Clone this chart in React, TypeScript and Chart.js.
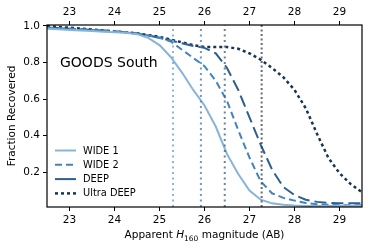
import React, { useEffect, useRef } from "react";
import { Chart, registerables } from "chart.js";

Chart.register(...registerables);

const mags = [22.5, 22.75, 23, 23.25, 23.5, 23.75, 24, 24.25, 24.5, 24.75, 25, 25.25, 25.5, 25.75, 26, 26.25, 26.5, 26.75, 27, 27.25, 27.5, 27.75, 28, 28.25, 28.5, 28.75, 29, 29.25, 29.5];
const wide1 = [0.985, 0.982, 0.978, 0.975, 0.972, 0.968, 0.965, 0.962, 0.955, 0.935, 0.895, 0.83, 0.745, 0.65, 0.565, 0.45, 0.3, 0.19, 0.1, 0.05, 0.03, 0.022, 0.018, 0.016, 0.015, 0.015, 0.015, 0.015, 0.015];
const wide2 = [0.99, 0.988, 0.985, 0.982, 0.978, 0.975, 0.97, 0.965, 0.958, 0.948, 0.935, 0.915, 0.87, 0.825, 0.78, 0.7, 0.59, 0.43, 0.28, 0.15, 0.085, 0.06, 0.045, 0.032, 0.025, 0.022, 0.02, 0.02, 0.02];
const deep = [0.99, 0.988, 0.985, 0.982, 0.978, 0.975, 0.97, 0.965, 0.958, 0.948, 0.935, 0.92, 0.905, 0.89, 0.88, 0.85, 0.77, 0.65, 0.5, 0.35, 0.215, 0.12, 0.075, 0.05, 0.038, 0.033, 0.03, 0.03, 0.03];
const ultraDeep = [1.0, 0.995, 0.99, 0.985, 0.98, 0.975, 0.97, 0.965, 0.96, 0.95, 0.94, 0.925, 0.91, 0.895, 0.885, 0.885, 0.885, 0.875, 0.85, 0.815, 0.77, 0.72, 0.65, 0.55, 0.41, 0.28, 0.195, 0.135, 0.09];
const cutMags = [25.3, 25.92, 26.45, 27.27];
const seriesNames = ["WIDE 1", "WIDE 2", "DEEP", "Ultra DEEP"];
const xTicks = [23, 24, 25, 26, 27, 28, 29];
const yTicks = [0.2, 0.4, 0.6, 0.8, 1.0];
const fieldLabel = "GOODS South";

const colors = ["#88b4da", "#4383c0", "#2d6090", "#1a3552"];
const cutColors = ["rgba(120,170,215,0.85)", "rgba(80,135,195,0.85)", "rgba(70,100,135,0.8)", "rgba(50,60,75,0.75)"];
const dashes = [[], [7, 4], [12, 5], [3, 3]];
const widths = [2, 2, 2, 2.5];
const FONT = "'DejaVu Sans', sans-serif";

export default function App() {
  const ref = useRef<HTMLCanvasElement>(null);
  useEffect(() => {
    document.body.style.margin = "0";
    const series = [wide1, wide2, deep, ultraDeep];
    const X_MIN = 22.5, X_MAX = 29.5, Y_MIN = 0.01, Y_MAX = 1.005;
    const datasets: any[] = series.map((s, i) => ({
      label: seriesNames[i],
      data: mags.map((m, j) => ({ x: m, y: s[j] })),
      borderColor: colors[i],
      borderWidth: widths[i],
      borderDash: dashes[i],
      pointRadius: 0,
      tension: 0,
      fill: false,
    }));
    cutMags.forEach((c, i) => {
      datasets.unshift({
        label: "cut" + i,
        data: [{ x: c, y: Y_MIN }, { x: c, y: Y_MAX }],
        borderColor: cutColors[i],
        borderWidth: 2,
        borderDash: i === 3 ? [2, 2.5] : [2, 3.5],
        pointRadius: 0,
        fill: false,
      });
    });

    const decor = {
      id: "decor",
      afterDraw(chart: any) {
        const ctx = chart.ctx;
        const a = chart.chartArea;
        ctx.save();
        ctx.strokeStyle = "#000";
        ctx.lineWidth = 1.2;
        ctx.strokeRect(a.left, a.top, a.right - a.left, a.bottom - a.top);
        ctx.fillStyle = "#000";
        ctx.font = `14px ${FONT}`;
        ctx.textBaseline = "alphabetic";
        ctx.textAlign = "left";
        ctx.fillText(fieldLabel, 60, 67);
        ctx.font = `9.8px ${FONT}`;
        ctx.textBaseline = "middle";
        seriesNames.forEach((n, i) => {
          const y = 150.5 + i * 14.3;
          ctx.beginPath();
          ctx.strokeStyle = colors[i];
          ctx.lineWidth = widths[i];
          ctx.setLineDash(i === 2 ? [] : dashes[i]);
          ctx.moveTo(55, y);
          ctx.lineTo(76, y);
          ctx.stroke();
          ctx.setLineDash([]);
          ctx.fillStyle = "#000";
          ctx.fillText(n, 83, y + 0.5);
        });
        ctx.save();
        ctx.translate(12.5, (a.top + a.bottom) / 2);
        ctx.rotate(-Math.PI / 2);
        ctx.font = `10.5px ${FONT}`;
        ctx.textAlign = "center";
        ctx.textBaseline = "middle";
        ctx.fillText("Fraction Recovered", 0, 0);
        ctx.restore();
        const parts = [
          { t: "Apparent ", f: `10.5px ${FONT}`, dy: 0 },
          { t: "H", f: `italic 10.5px ${FONT}`, dy: 0 },
          { t: "160", f: `7.5px ${FONT}`, dy: 2.5 },
          { t: " magnitude (AB)", f: `10.5px ${FONT}`, dy: 0 },
        ];
        let total = 0;
        parts.forEach((p) => { ctx.font = p.f; total += ctx.measureText(p.t).width; });
        let x = (a.left + a.right) / 2 - total / 2;
        ctx.textAlign = "left";
        ctx.textBaseline = "alphabetic";
        parts.forEach((p) => {
          ctx.font = p.f;
          ctx.fillText(p.t, x, 238 + p.dy);
          x += ctx.measureText(p.t).width;
        });
        ctx.restore();
      },
    };

    const setTicks = (vals: number[]) => (scale: any) => {
      scale.ticks = vals.map((v) => ({ value: v }));
    };
    const tickFont = { family: FONT, size: 10.5 };

    const chart = new Chart(ref.current!, {
      type: "line",
      data: { datasets },
      options: {
        animation: false,
        responsive: false,
        maintainAspectRatio: false,
        layout: { padding: { right: 12, left: 0, top: 0, bottom: 0 } },
        plugins: { legend: { display: false }, tooltip: { enabled: false } },
        scales: {
          x: {
            type: "linear",
            position: "bottom",
            min: X_MIN,
            max: X_MAX,
            afterBuildTicks: setTicks(xTicks),
            afterFit: (s: any) => { s.height = 43; },
            grid: { drawOnChartArea: false, tickLength: 4, color: "#000", tickColor: "#000" },
            border: { display: false },
            ticks: { color: "#000", font: tickFont, padding: 3, maxRotation: 0, callback: (v: any) => String(v) },
          },
          x2: {
            type: "linear",
            position: "top",
            min: X_MIN,
            max: X_MAX,
            afterBuildTicks: setTicks(xTicks),
            afterFit: (s: any) => { s.height = 25; },
            grid: { drawOnChartArea: false, tickLength: 4, color: "#000", tickColor: "#000" },
            border: { display: false },
            ticks: { color: "#000", font: tickFont, padding: 2, maxRotation: 0, callback: (v: any) => String(v) },
          },
          y: {
            type: "linear",
            min: Y_MIN,
            max: Y_MAX,
            afterBuildTicks: setTicks(yTicks),
            afterFit: (s: any) => { s.width = 47; },
            grid: { drawOnChartArea: false, tickLength: 4, color: "#000", tickColor: "#000" },
            border: { display: false },
            ticks: { color: "#000", font: tickFont, padding: 3, callback: (v: any) => Number(v).toFixed(1) },
          },
        },
      },
      plugins: [decor],
    } as any);
    return () => chart.destroy();
  }, []);
  return <canvas ref={ref} width={374} height={250} style={{ display: "block", width: 374, height: 250 }} />;
}
